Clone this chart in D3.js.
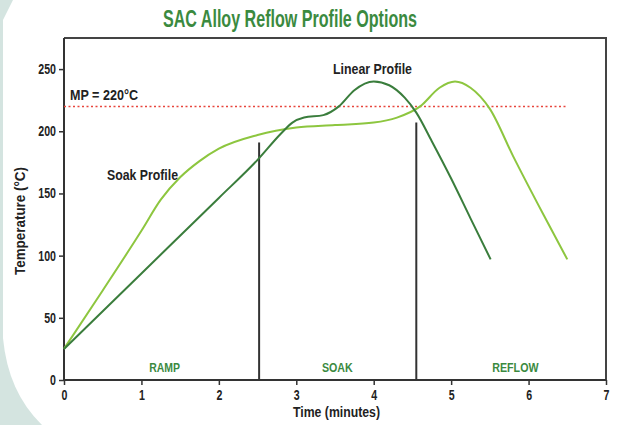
<!DOCTYPE html>
<html>
<head>
<meta charset="utf-8">
<script src="https://cdn.jsdelivr.net/npm/d3@7"></script>
<style>
  body { margin: 0; background: #d4e4e0; }
  svg { display: block; }
  text { font-family: "Liberation Sans", Arial, sans-serif; font-weight: bold; }
</style>
</head>
<body>
<div class="container"></div>
<script>
var soakTime = [0, 0.5, 1, 1.25, 1.5, 1.75, 2, 2.5, 3, 3.5, 4, 4.3, 4.6, 4.85, 5.05, 5.25, 5.5, 5.8, 6.2, 6.5];
var soakTemp = [25, 72, 120, 145, 163, 176, 186, 197, 203, 205, 207, 211, 220, 235, 240, 235, 218, 180, 132, 97];
var linearTime = [0, 1, 2, 2.5, 2.8, 2.95, 3.1, 3.35, 3.55, 3.75, 4.0, 4.2, 4.4, 4.55, 4.75, 5.0, 5.25, 5.51];
var linearTemp = [25, 85.7, 146.4, 177, 198, 207, 211, 213, 220, 233, 240, 237, 227, 215, 192, 162, 130, 97];
var xTicks = [0, 1, 2, 3, 4, 5, 6, 7];
var yTicks = [0, 50, 100, 150, 200, 250];
var meltPoint = 220;
var meltEnd = 6.5;
var phaseLines = [{t: 2.52, top: 191}, {t: 4.55, top: 207}];
var phases = [{name: "RAMP", t: 1.3}, {name: "SOAK", t: 3.53}, {name: "REFLOW", t: 5.83}];

var W = 619, H = 425;
var margin = {top: 38, right: 13, bottom: 45, left: 64};
var width = W - margin.left - margin.right,
    height = H - margin.top - margin.bottom;

var svg = d3.select('.container').append('svg')
  .attr('width', W).attr('height', H);

// white card on the teal background
svg.append('path')
  .attr('d', 'M13,0 L' + W + ',0 L' + W + ',' + H + ' L42,' + H + ' Q8,392 3,338 L3,20 Z')
  .attr('fill', '#fff');

// narrow bold text helper (the original uses a condensed face)
function label(sel, txt, len) {
  return sel.text(txt).attr('textLength', len).attr('lengthAdjust', 'spacingAndGlyphs');
}

label(svg.append('text')
  .attr('x', 163).attr('y', 27)
  .attr('font-size', '23px')
  .attr('fill', '#3b8a3f'), 'SAC Alloy Reflow Profile Options', 254);

var g = svg.append('g')
  .attr('transform', 'translate(' + margin.left + ',' + margin.top + ')');

var x = d3.scaleLinear().domain([0, 7]).range([0, width]);
var y = d3.scaleLinear().domain([0, 275]).range([height, 0]);

// frame top + right
g.append('path')
  .attr('d', 'M0,0 H' + width + ' V' + height)
  .attr('fill', 'none').attr('stroke', '#444').attr('stroke-width', 2);

var xAxis = g.append('g')
  .attr('transform', 'translate(0,' + height + ')')
  .call(d3.axisBottom(x).tickValues(xTicks).tickSize(5).tickFormat(d3.format('d')));
var yAxis = g.append('g')
  .call(d3.axisLeft(y).tickValues(yTicks).tickSize(5).tickFormat(d3.format('d')));

[xAxis, yAxis].forEach(function(a) {
  a.select('.domain').attr('stroke', '#333').attr('stroke-width', 2);
  a.selectAll('.tick line').attr('stroke', '#333').attr('stroke-width', 1.5);
  a.selectAll('.tick text')
    .attr('fill', '#222')
    .style('font-size', '14px')
    .attr('textLength', function(d) { return String(d).length * 5.9; })
    .attr('lengthAdjust', 'spacingAndGlyphs');
});
xAxis.selectAll('.tick text').attr('dy', '0.85em');
xAxis.select('.domain').attr('d', 'M0,0H' + width);
yAxis.select('.domain').attr('d', 'M0,' + height + 'V0');

// phase divider lines
g.selectAll('.phase-line')
  .data(phaseLines).enter().append('line')
  .attr('x1', function(d) { return x(d.t); })
  .attr('x2', function(d) { return x(d.t); })
  .attr('y1', function(d) { return y(d.top); })
  .attr('y2', height)
  .attr('stroke', '#333').attr('stroke-width', 2);

g.selectAll('.phase')
  .data(phases).enter().append('text')
  .attr('x', function(d) { return x(d.t); })
  .attr('y', height - 8)
  .attr('text-anchor', 'middle')
  .attr('font-size', '13px')
  .attr('fill', '#3b8a3f')
  .attr('textLength', function(d) { return d.name.length * 7.7; })
  .attr('lengthAdjust', 'spacingAndGlyphs')
  .text(function(d) { return d.name; });

// melting point
g.append('line')
  .attr('x1', 0).attr('x2', x(meltEnd))
  .attr('y1', y(meltPoint)).attr('y2', y(meltPoint))
  .attr('stroke', '#e8453c').attr('stroke-width', 1.5)
  .attr('stroke-dasharray', '2,2.5');

label(g.append('text')
  .attr('x', 6).attr('y', y(meltPoint) - 6)
  .attr('font-size', '14px').attr('fill', '#222'), 'MP = 220°C', 68);

var line = d3.line()
  .x(function(d) { return x(d[0]); })
  .y(function(d) { return y(d[1]); })
  .curve(d3.curveMonotoneX);

g.append('path')
  .datum(soakTime.map(function(t, i) { return [t, soakTemp[i]]; }))
  .attr('d', line)
  .attr('fill', 'none').attr('stroke', '#8dc63f').attr('stroke-width', 2);

g.append('path')
  .datum(linearTime.map(function(t, i) { return [t, linearTemp[i]]; }))
  .attr('d', line)
  .attr('fill', 'none').attr('stroke', '#3a7d3c').attr('stroke-width', 2);

label(g.append('text')
  .attr('x', 43).attr('y', y(161))
  .attr('font-size', '14px').attr('fill', '#222'), 'Soak Profile', 71);

label(g.append('text')
  .attr('x', 269).attr('y', y(246))
  .attr('font-size', '14px').attr('fill', '#222'), 'Linear Profile', 79);

// axis titles
label(svg.append('text')
  .attr('x', 293).attr('y', 417)
  .attr('font-size', '14px').attr('fill', '#222'), 'Time (minutes)', 87);

label(svg.append('text')
  .attr('transform', 'translate(25,221) rotate(-90)')
  .attr('x', -54)
  .attr('font-size', '14px').attr('fill', '#222'), 'Temperature (°C)', 108);
</script>
</body>
</html>
